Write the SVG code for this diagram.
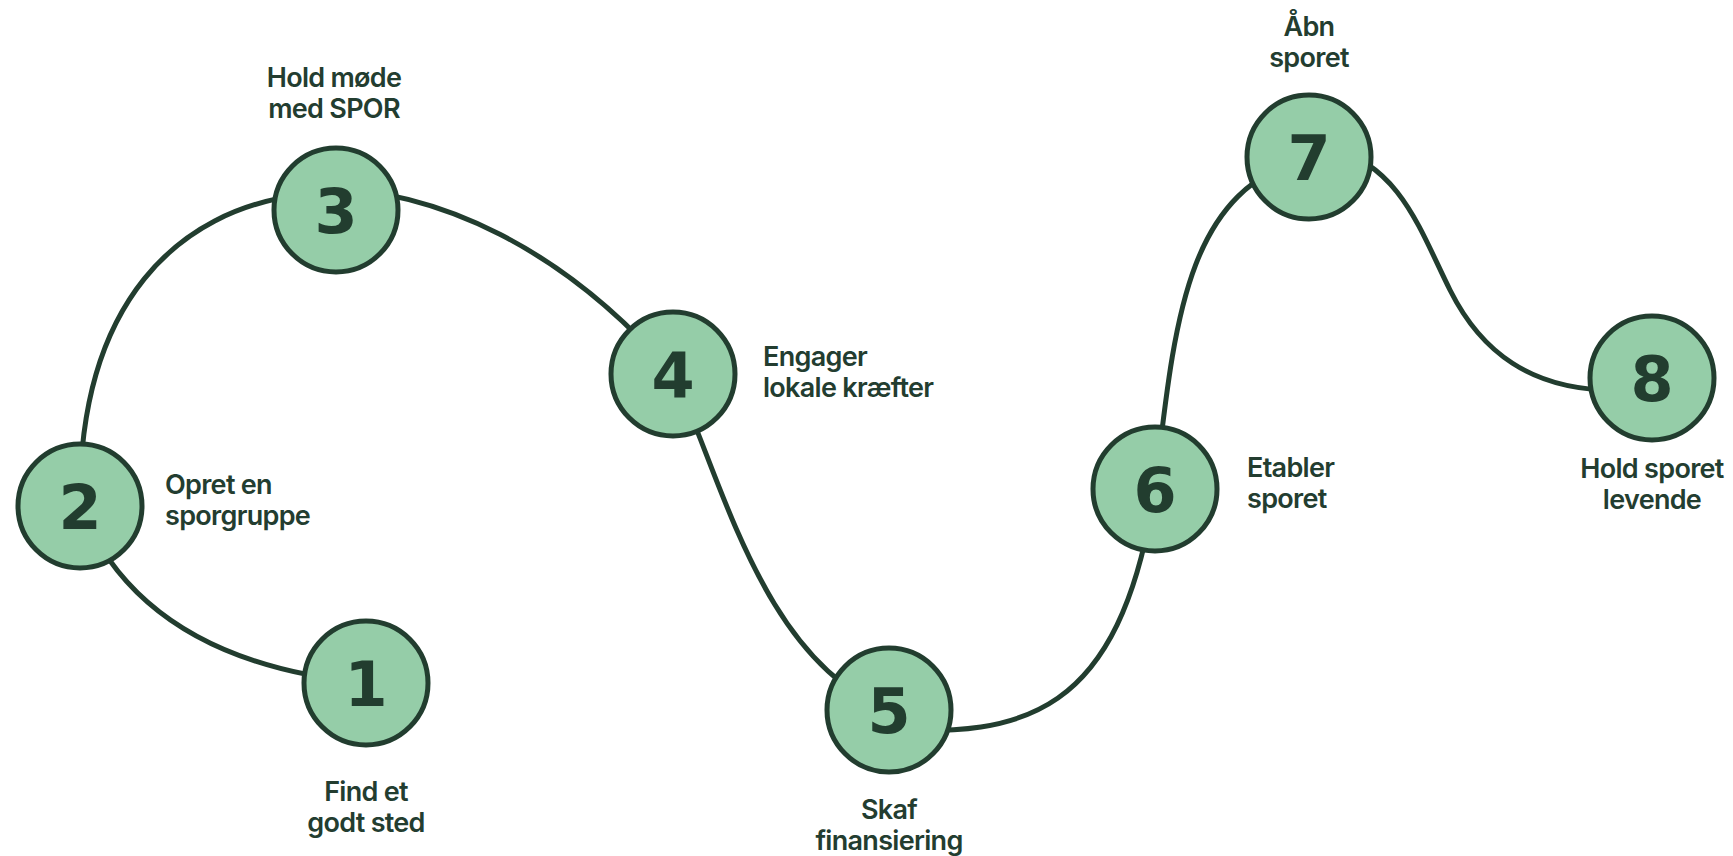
<svg xmlns="http://www.w3.org/2000/svg" width="1733" height="856" viewBox="0 0 1733 856">
<style>
.bg{fill:#ffffff}
.conn{fill:none;stroke:#223d2f;stroke-width:5;stroke-linecap:round}
.node circle{fill:#95cda8;stroke:#223d2f;stroke-width:5}
.num{font-family:"DejaVu Sans",sans-serif;font-weight:700;font-size:62px;fill:#223d2f;text-anchor:middle}
.lbl{font-family:Inter,"Liberation Sans",sans-serif;font-weight:600;font-size:27px;fill:#233d30;letter-spacing:-0.7px}
.mid{text-anchor:middle}
</style>
<rect class="bg" width="1733" height="856"/>
<g id="connectors">
<path class="conn" d="M366 683 C250 672 130 630 80 506"/>
<path class="conn" d="M80 506 C78 300 180 210 300 195"/>
<path class="conn" d="M300 188 C440 183 570 255 673 374"/>
<path class="conn" d="M673 374 C720 470 760 660 889 710"/>
<path class="conn" d="M889 730 C1020 735 1120 720 1155 489"/>
<path class="conn" d="M1155 489 C1175 320 1185 190 1309 157"/>
<path class="conn" d="M1330 148 C1400 165 1420 230 1450 290 C1480 350 1530 392 1620 390"/>
</g>
<g id="node1" class="node"><circle cx="366" cy="683" r="62"/><text class="num" x="366" y="706">1</text><text class="lbl mid" x="366" y="801">Find et</text><text class="lbl mid" x="366" y="832">godt sted</text></g>
<g id="node2" class="node"><circle cx="80" cy="506" r="62"/><text class="num" x="80" y="529">2</text><text class="lbl" x="165" y="494">Opret en</text><text class="lbl" x="165" y="525">sporgruppe</text></g>
<g id="node3" class="node"><circle cx="336" cy="210" r="62"/><text class="num" x="336" y="233">3</text><text class="lbl mid" x="334" y="87">Hold møde</text><text class="lbl mid" x="334" y="118">med SPOR</text></g>
<g id="node4" class="node"><circle cx="673" cy="374" r="62"/><text class="num" x="673" y="397">4</text><text class="lbl" x="763" y="366">Engager</text><text class="lbl" x="763" y="397">lokale kræfter</text></g>
<g id="node5" class="node"><circle cx="889" cy="710" r="62"/><text class="num" x="889" y="733">5</text><text class="lbl mid" x="889" y="819">Skaf</text><text class="lbl mid" x="889" y="850">finansiering</text></g>
<g id="node6" class="node"><circle cx="1155" cy="489" r="62"/><text class="num" x="1155" y="512">6</text><text class="lbl" x="1247" y="477">Etabler</text><text class="lbl" x="1247" y="508">sporet</text></g>
<g id="node7" class="node"><circle cx="1309" cy="157" r="62"/><text class="num" x="1309" y="180">7</text><text class="lbl mid" x="1309" y="36">Åbn</text><text class="lbl mid" x="1309" y="67">sporet</text></g>
<g id="node8" class="node"><circle cx="1652" cy="378" r="62"/><text class="num" x="1652" y="401">8</text><text class="lbl mid" x="1652" y="478">Hold sporet</text><text class="lbl mid" x="1652" y="509">levende</text></g>
</svg>
